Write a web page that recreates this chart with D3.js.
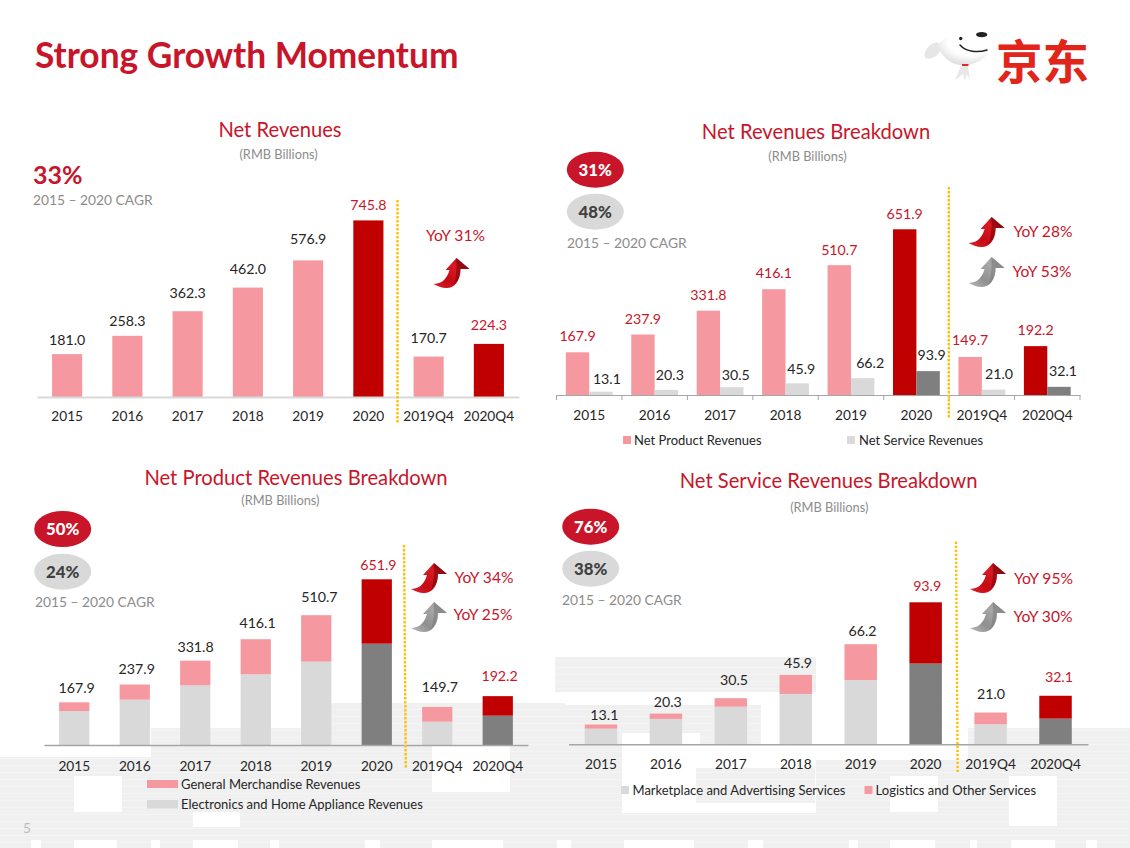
<!DOCTYPE html>
<html>
<head>
<meta charset="utf-8">
<script src="https://cdn.jsdelivr.net/npm/d3@7"></script>
<style>
	html, body { margin: 0; padding: 0; background: #fff; }
	svg { display: block; }
	text { font-family: Lato, "Open Sans", sans-serif; }
	.val { font-size: 14.2px; text-anchor: middle; }
	.cat { font-size: 13.7px; fill: #262626; }
	.panelTitle { font-size: 20.2px; fill: #c8152a; text-anchor: middle; }
	.unit { font-size: 12.8px; fill: #8c8c8c; text-anchor: middle; }
	.cagrLabel { font-size: 13.8px; fill: #8c8c8c; }
	.yoy { font-size: 15.6px; fill: #c8152a; text-anchor: middle; }
	.oval { font-size: 16.8px; font-weight: 900; text-anchor: middle; }
	.legend { font-size: 13px; fill: #262626; }
</style>
</head>
<body>
<svg id="slide" width="1130" height="848"></svg>
<script>
// chart values
const categories = ['2015', '2016', '2017', '2018', '2019', '2020', '2019Q4', '2020Q4'];
const highlighted = ['2020', '2020Q4'];

const netRevenues = [181.0, 258.3, 362.3, 462.0, 576.9, 745.8, 170.7, 224.3];
const netProduct = [167.9, 237.9, 331.8, 416.1, 510.7, 651.9, 149.7, 192.2];
const netService = [13.1, 20.3, 30.5, 45.9, 66.2, 93.9, 21.0, 32.1];

const electronics = [133.8, 178.3, 234.7, 278.0, 327.9, 398.6, 91.8, 115.4];
const generalMerch = [34.1, 59.6, 97.1, 138.1, 182.8, 253.3, 57.9, 76.8];

const marketplace = [10.4, 16.8, 24.9, 33.3, 42.5, 53.4, 13.2, 17.0];
const logistics = [2.7, 3.5, 5.6, 12.6, 23.7, 40.5, 7.8, 15.1];

// the labels sit by hand on the slide, so each one has its own lift and nudge
const revenueLift = [14, 15, 18, 19, 21.5, 15.5, 18.5, 19];
const productLift = [16, 16, 16, 16, 15, 15.6, 17, 15.7];
const serviceLift = [12.7, 15, 12, 14, 14.7, 15.7, 15.7, 15.7];
const serviceNudge = [6, 3.5, 4, 4, 7.5, 3.5, 5.5, 4];
const stackProductLift = [14.7, 16, 13.7, 16, 18, 14.3, 19.6, 20];
const stackProductNudge = [2.4, 2, 0.3, 1.8, 3.2, 1.7, 2.6, 1.8];
const stackServiceLift = [9.7, 12, 18, 11.7, 13, 16.3, 19, 18.7];
const stackServiceNudge = [3.4, 1.8, 3.2, 2.2, 1.8, 1.5, 0.4, 3.4];

// washed out bits of the slide background: [x, y, w, h]
const bgGrey = [
	[0, 757, 565, 91], [151, 728, 180, 29], [331, 703, 234, 54], [557, 657, 8, 35],
	[555, 657, 261, 35], [550, 705, 211, 40], [550, 745, 72, 103], [622, 813, 508, 35],
	[696, 768, 119, 35], [816, 760, 281, 88], [968, 728, 162, 120]
];
const bgWhite = [
	[74, 776, 48, 36], [432, 745, 78, 47], [193, 812, 47, 15], [0, 745, 151, 12],
	[622, 733, 78, 35], [622, 768, 74, 45], [700, 745, 115, 23], [890, 776, 48, 36],
	[1009, 776, 48, 50], [31, 840, 10, 8], [74, 840, 43, 8], [151, 840, 9, 8],
	[193, 840, 45, 8], [270, 840, 9, 8], [365, 840, 15, 8], [432, 840, 71, 8],
	[557, 840, 14, 8], [624, 840, 70, 8], [748, 840, 15, 8], [849, 840, 9, 8],
	[890, 840, 45, 8], [970, 840, 7, 8], [1011, 840, 44, 8], [1086, 840, 11, 8]
];

const RED = '#c8152a', DARK_RED = '#c00000', PINK = '#f5989f', LIGHT = '#d9d9d9', DARK = '#7f7f7f';
const isHigh = c => highlighted.includes(c);

const svg = d3.select('#slide');
const defs = svg.append('defs');

function arrowGradient(id, stops) {
	const g = defs.append('linearGradient').attr('id', id)
		.attr('x1', 0).attr('y1', 1).attr('x2', 1).attr('y2', 0);
	stops.forEach((c, i) => g.append('stop').attr('offset', i / (stops.length - 1)).attr('stop-color', c));
}
arrowGradient('arrowRed', ['#e0202a', '#c40a14', '#dc1a24', '#8a0008']);
arrowGradient('arrowGrey', ['#bcbcbc', '#8f8f8f', '#a8a8a8', '#909090']);

const headGrad = defs.append('radialGradient').attr('id', 'headGrad')
	.attr('cx', .62).attr('cy', .3).attr('r', .75);
headGrad.append('stop').attr('offset', .55).attr('stop-color', '#ffffff');
headGrad.append('stop').attr('offset', 1).attr('stop-color', '#d8d8d8');

// background patchwork
svg.append('g').selectAll('rect').data(bgGrey).enter().append('rect')
	.attr('x', d => d[0]).attr('y', d => d[1]).attr('width', d => d[2]).attr('height', d => d[3])
	.attr('fill', '#f0f0f0');
svg.append('g').selectAll('line').data(d3.range(660, 848, 7)).enter().append('line')
	.attr('x1', 0).attr('x2', 1130).attr('y1', d => d + .5).attr('y2', d => d + .5)
	.attr('stroke', '#fff').attr('stroke-opacity', .3);
svg.append('g').selectAll('rect').data(bgWhite).enter().append('rect')
	.attr('x', d => d[0]).attr('y', d => d[1]).attr('width', d => d[2]).attr('height', d => d[3])
	.attr('fill', '#fff');

// header
svg.append('text').attr('x', 35).attr('y', 68)
	.style('font-size', '35.3px').style('font-weight', 700).style('fill', RED)
	.text('Strong Growth Momentum');
svg.append('text').attr('x', 23).attr('y', 833)
	.style('font-size', '13.5px').style('fill', '#bdbdbd').text('5');

// logo
const logo = svg.append('g');
logo.append('path')
	.attr('d', 'M925 58 C923 50 930 43 937 42 C941 46 941 51 938 54 C934 58 929 60 925 58 Z')
	.attr('fill', '#e6e6e6');
logo.append('path')
	.attr('d', 'M937 46 C946 34 962 31 975 32 C986 33 990 40 989 49 C987 60 972 66 960 65 C950 64 942 56 937 46 Z')
	.attr('fill', 'url(#headGrad)');
logo.append('path')
	.attr('d', 'M961 66 L968 66 L970 81 L967 74 L965 81 L963 74 L955 80 Z').attr('fill', '#e8e8e8');
logo.append('rect').attr('x', 962).attr('y', 64).attr('width', 6.5).attr('height', 2).attr('fill', '#d9302a');
logo.append('circle').attr('cx', 960.7).attr('cy', 38.5).attr('r', 1.7).attr('fill', '#222');
logo.append('ellipse').attr('cx', 981.7).attr('cy', 34.7).attr('rx', 5.6).attr('ry', 2.6).attr('fill', '#222');
logo.append('path').attr('d', 'M960 45 C966 52 978 53 987 50').attr('fill', 'none')
	.attr('stroke', '#222').attr('stroke-width', 1.5).attr('stroke-linecap', 'round');
svg.append('text').attr('x', 996).attr('y', 78.5)
	.style('font-family', '"Noto Sans CJK SC"').style('font-size', '46.5px').style('font-weight', 700)
	.style('fill', '#e1251b').text('京东');

function upArrow(x, y, kind) {
	const g = svg.append('g').attr('transform', `translate(${x},${y})`);
	g.append('path')
		.attr('d', 'M-18 11 C-12 11 -5 8 -2 -3 L-6 -3 L5 -15 L18 -4 L9 -4 C9 8 3 15 -5 15 C-10 15 -14 13 -18 11 Z')
		.attr('fill', `url(#${kind})`);
	// darker side of the arrow
	g.append('path')
		.attr('d', 'M5 -15 L18 -4 L9 -4 C9 4 6 9 2 12 C5 5 5 -5 5 -15 Z')
		.attr('fill', kind == 'arrowRed' ? '#5a0004' : '#707070').attr('fill-opacity', .45);
}

function drawOval(cx, cy, label, fill, color) {
	svg.append('ellipse').attr('cx', cx).attr('cy', cy).attr('rx', 28.5).attr('ry', 18).attr('fill', fill);
	svg.append('text').attr('class', 'oval').attr('x', cx).attr('y', cy).attr('dy', '.36em')
		.style('fill', color).text(label);
}

function cagrText(x, y) {
	svg.append('text').attr('class', 'cagrLabel').attr('x', x).attr('y', y).attr('dy', '.35em')
		.text('2015 \u2013 2020 CAGR');
}

function yoyText(x, y, label) {
	svg.append('text').attr('class', 'yoy').attr('x', x).attr('y', y).attr('dy', '.35em').text(label);
}

function headings(title, tx, ty, ux, uy) {
	svg.append('text').attr('class', 'panelTitle').attr('x', tx).attr('y', ty).attr('dy', '.35em').text(title);
	svg.append('text').attr('class', 'unit').attr('x', ux).attr('y', uy).attr('dy', '.35em').text('(RMB Billions)');
}

function divider(x1, y1, x2, y2) {
	svg.append('line').attr('x1', x1).attr('y1', y1).attr('x2', x2).attr('y2', y2)
		.attr('stroke', '#ffc000').attr('stroke-width', 2.4).attr('stroke-dasharray', '2.4 1.6');
}

// one set of axis, labels along the baseline
function drawAxis(x, base, catY, lineColor, lineWidth) {
	const axis = svg.append('g').attr('transform', `translate(0,${base})`)
		.call(d3.axisBottom(x).tickSize(0).tickPadding(catY - base - 5));
	axis.select('.domain').attr('stroke', lineColor).attr('stroke-width', lineWidth);
	axis.selectAll('text').attr('class', 'cat');
	axis.attr('font-family', null).attr('font-size', null);
	return axis;
}

function drawValues(items) {
	svg.append('g').selectAll('text').data(items).enter().append('text')
		.attr('class', 'val')
		.attr('x', d => d.x).attr('y', d => d.y).attr('dy', '.35em')
		.style('fill', d => d.color).text(d => d.v.toFixed(1));
}

function legendItem(x, y, w, h, fill, tx, label) {
	svg.append('rect').attr('x', x).attr('y', y).attr('width', w).attr('height', h).attr('fill', fill);
	svg.append('text').attr('class', 'legend').attr('x', tx).attr('y', y + h / 2).attr('dy', '.35em').text(label);
}

// the two stacked panels share this
function stackedBars(x, y, lower, upper, lift, nudge) {
	const rows = categories.map((c, i) => ({ cat: c, lower: lower[i], upper: upper[i] }));
	const series = d3.stack().keys(['lower', 'upper'])(rows);
	const g = svg.append('g').selectAll('g').data(series).enter().append('g');
	g.selectAll('rect').data(d => d).enter().append('rect')
		.attr('x', d => x(d.data.cat)).attr('width', x.bandwidth())
		.attr('y', d => y(d[1])).attr('height', d => y(d[0]) - y(d[1]))
		.attr('fill', function(d) {
			const key = d3.select(this.parentNode).datum().key;
			if (isHigh(d.data.cat)) return key == 'lower' ? DARK : DARK_RED;
			return key == 'lower' ? LIGHT : PINK;
		});
	return rows.map((r, i) => ({
		v: r.lower + r.upper,
		x: x(r.cat) + x.bandwidth() / 2 + nudge[i],
		y: y(r.lower + r.upper) - lift[i],
		color: isHigh(r.cat) ? RED : '#262626'
	}));
}

/* ---- Net Revenues ---- */
headings('Net Revenues', 280, 130, 278.6, 155);
svg.append('text').attr('x', 33).attr('y', 175).attr('dy', '.35em')
	.style('font-size', '25px').style('font-weight', 700).style('fill', RED).text('33%');
cagrText(33, 200);

const x1 = d3.scaleBand().domain(categories).range([37, 519]).paddingInner(.5).paddingOuter(.25);
const y1 = d3.scaleLinear().domain([0, 745.8]).range([397, 220.4]);
svg.append('g').selectAll('rect').data(categories).enter().append('rect')
	.attr('x', d => x1(d)).attr('width', x1.bandwidth())
	.attr('y', (d, i) => y1(netRevenues[i])).attr('height', (d, i) => y1(0) - y1(netRevenues[i]))
	.attr('fill', d => isHigh(d) ? DARK_RED : PINK);
drawAxis(x1, 397, 416.7, LIGHT, 2);
drawValues(categories.map((c, i) => ({
	v: netRevenues[i],
	x: x1(c) + x1.bandwidth() / 2,
	y: y1(netRevenues[i]) - revenueLift[i],
	color: isHigh(c) ? RED : '#262626'
})));
divider(397.5, 200, 397.5, 423);
yoyText(455.5, 236, 'YoY 31%');
upArrow(451.5, 273, 'arrowRed');

/* ---- Net Revenues Breakdown ---- */
headings('Net Revenues Breakdown', 816, 132, 807.5, 157);
drawOval(595.3, 169.7, '31%', RED, '#fff');
drawOval(595.3, 211.7, '48%', LIGHT, '#404040');
cagrText(567, 243);

const x2 = d3.scaleBand().domain(categories).range([556.5, 1080]);
const y2 = d3.scaleLinear().domain([0, 651.9]).range([395, 229.3]);
const w2 = 23.4;
svg.append('g').selectAll('rect').data(categories).enter().append('rect')
	.attr('x', d => x2(d) + x2.bandwidth() / 2 - w2).attr('width', w2)
	.attr('y', (d, i) => y2(netProduct[i])).attr('height', (d, i) => y2(0) - y2(netProduct[i]))
	.attr('fill', d => isHigh(d) ? DARK_RED : PINK);
svg.append('g').selectAll('rect').data(categories).enter().append('rect')
	.attr('x', d => x2(d) + x2.bandwidth() / 2).attr('width', w2)
	.attr('y', (d, i) => y2(netService[i])).attr('height', (d, i) => y2(0) - y2(netService[i]))
	.attr('fill', d => isHigh(d) ? DARK : LIGHT);
drawAxis(x2, 395, 415.7, '#a6a6a6', 1.2);
svg.append('g').selectAll('line').data(categories.concat('end')).enter().append('line')
	.attr('x1', d => d == 'end' ? x2.range()[1] : x2(d))
	.attr('x2', d => d == 'end' ? x2.range()[1] : x2(d))
	.attr('y1', 395).attr('y2', 400).attr('stroke', '#a6a6a6').attr('stroke-width', 1);
drawValues(categories.map((c, i) => ({
	v: netProduct[i],
	x: x2(c) + x2.bandwidth() / 2 - w2 / 2,
	y: y2(netProduct[i]) - productLift[i],
	color: RED
})));
drawValues(categories.map((c, i) => ({
	v: netService[i],
	x: x2(c) + x2.bandwidth() / 2 + w2 / 2 + serviceNudge[i],
	y: y2(netService[i]) - serviceLift[i],
	color: '#262626'
})));
divider(948.8, 187, 948.8, 419);
upArrow(986.6, 232, 'arrowRed');
upArrow(986.6, 272, 'arrowGrey');
yoyText(1043, 232, 'YoY 28%');
yoyText(1042, 272, 'YoY 53%');
legendItem(623, 436, 8, 8, PINK, 634, 'Net Product Revenues');
legendItem(847, 436, 8, 8, LIGHT, 859, 'Net Service Revenues');

/* ---- Net Product Revenues Breakdown ---- */
headings('Net Product Revenues Breakdown', 296, 478, 280.4, 501);
drawOval(62.7, 529, '50%', RED, '#fff');
drawOval(62.7, 571.7, '24%', LIGHT, '#404040');
cagrText(35, 602);

const x3 = d3.scaleBand().domain(categories).range([44, 528]).paddingInner(.5).paddingOuter(.25);
const y3 = d3.scaleLinear().domain([0, 651.9]).range([745, 579.3]);
const labels3 = stackedBars(x3, y3, electronics, generalMerch, stackProductLift, stackProductNudge);
drawAxis(x3, 745, 766, '#a6a6a6', 1.5);
drawValues(labels3);
divider(404, 545, 405.8, 768);
upArrow(429, 578, 'arrowRed');
upArrow(429, 617, 'arrowGrey');
yoyText(484, 578, 'YoY 34%');
yoyText(483, 615, 'YoY 25%');
legendItem(147, 780, 31, 8, PINK, 181, 'General Merchandise Revenues');
legendItem(147, 800, 31, 8.5, LIGHT, 181, 'Electronics and Home Appliance Revenues');

/* ---- Net Service Revenues Breakdown ---- */
headings('Net Service Revenues Breakdown', 828.6, 481, 829.3, 508);
drawOval(590.7, 526.7, '76%', RED, '#fff');
drawOval(590.7, 568.7, '38%', LIGHT, '#404040');
cagrText(562, 600);

const x4 = d3.scaleBand().domain(categories).range([568.5, 1088]).paddingInner(.5).paddingOuter(.25);
const y4 = d3.scaleLinear().domain([0, 93.9]).range([744.3, 602.3]);
const labels4 = stackedBars(x4, y4, marketplace, logistics, stackServiceLift, stackServiceNudge);
drawAxis(x4, 744.3, 764.7, '#a6a6a6', 1.5);
drawValues(labels4);
divider(956, 541.7, 957.7, 773);
upArrow(988, 578, 'arrowRed');
upArrow(988, 617, 'arrowGrey');
yoyText(1043.5, 579, 'YoY 95%');
yoyText(1043, 617, 'YoY 30%');
legendItem(621, 786, 8, 8, LIGHT, 632.5, 'Marketplace and Advertising Services');
legendItem(864.5, 786, 8, 8, PINK, 875.6, 'Logistics and Other Services');
</script>
</body>
</html>
